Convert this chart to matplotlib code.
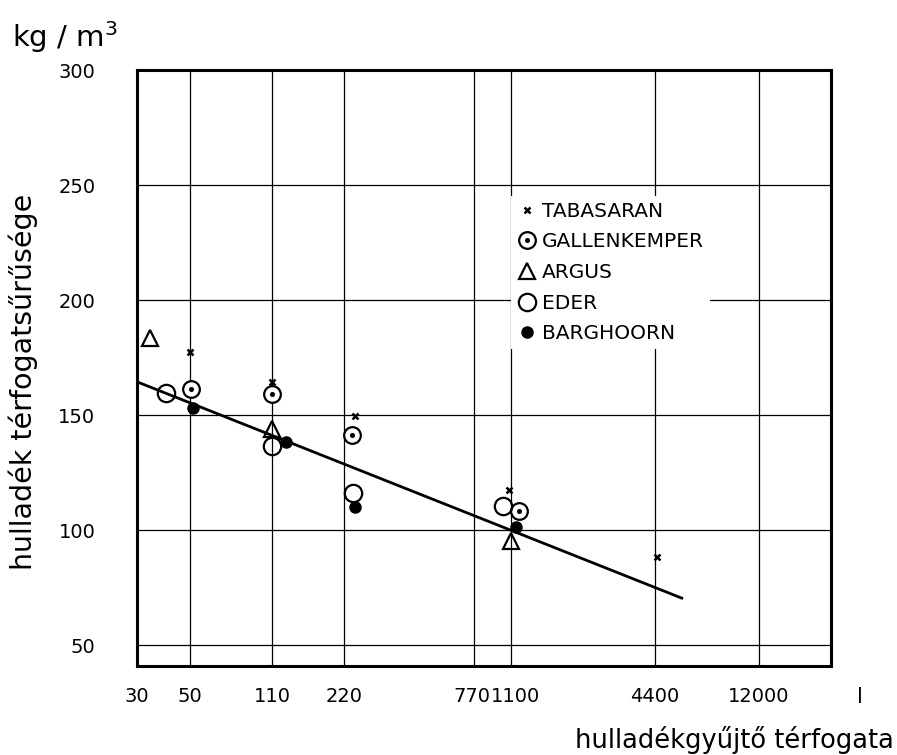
import matplotlib
matplotlib.use('Agg')
import matplotlib.pyplot as plt
import matplotlib.transforms as mtransforms
from matplotlib.legend_handler import HandlerTuple

# ---- data ----
xticks = [30, 50, 110, 220, 770, 1100, 4400, 12000]
xtick_labels = ['30', '50', '110', '220', '770', '1100', '4400', '12000']
yticks = [50, 100, 150, 200, 250, 300]

tab_x = [50, 110, 245, 1080, 4500]
tab_y = [177.5, 164.5, 149.5, 117.5, 88.5]
gal_x = [50.5, 110, 237, 1190]
gal_y = [161.5, 159, 141.5, 108.5]
arg_x = [34, 110, 1100]
arg_y = [183.5, 144, 95.5]
eder_x = [39.5, 110, 241, 1020]
eder_y = [159.5, 136.5, 116, 110.5]
bar_x = [51.5, 126, 245, 1160]
bar_y = [153, 138.5, 110, 101.5]
fit_x = [30, 5700]
fit_y = [164.5, 70.5]

labels = ['TABASARAN', 'GALLENKEMPER', 'ARGUS', 'EDER', 'BARGHOORN']

plt.rcParams['font.family'] = ['DejaVu Sans']

fig = plt.figure(figsize=(8.97, 7.55), dpi=100)
ax = fig.add_axes([137/897, 1-666/755, (831-137)/897, (666-70)/755])

ax.set_xscale('log')
ax.set_xlim(30, 24000)
ax.set_ylim(41, 300)

ax.set_xticks(xticks)
ax.set_xticklabels(xtick_labels)
ax.xaxis.set_minor_locator(matplotlib.ticker.NullLocator())
ax.set_yticks(yticks)
ax.tick_params(axis='both', length=0, labelsize=14)
ax.tick_params(axis='x', pad=15)
ax.tick_params(axis='y', pad=30)

# nudge the crowded 770 / 1100 labels as in the original
for lab in ax.get_xticklabels():
    t = lab.get_text()
    if t == '1100':
        lab.set_transform(lab.get_transform() + mtransforms.ScaledTranslation(5/100, 0, fig.dpi_scale_trans))
    elif t == '770':
        lab.set_transform(lab.get_transform() + mtransforms.ScaledTranslation(-2/100, 0, fig.dpi_scale_trans))

ax.grid(True, which='major', color='black', linewidth=0.9)
ax.set_axisbelow(True)
for s in ax.spines.values():
    s.set_linewidth(2.2)
    s.set_zorder(5)

ax.plot(fit_x, fit_y, color='black', linewidth=2.0, zorder=3)

h_tab, = ax.plot(tab_x, tab_y, linestyle='none', marker='x', markersize=4.5,
                 markeredgewidth=1.8, color='black', zorder=4)
h_gal1, = ax.plot(gal_x, gal_y, linestyle='none', marker='o', markersize=12,
                  markerfacecolor='white', markeredgecolor='black', markeredgewidth=1.6, zorder=4)
h_gal2, = ax.plot(gal_x, gal_y, linestyle='none', marker='o', markersize=2.6,
                  color='black', zorder=4.1)
h_arg, = ax.plot(arg_x, arg_y, linestyle='none', marker='^', markersize=11,
                 markerfacecolor='none', markeredgecolor='black', markeredgewidth=1.6, zorder=4)
h_eder, = ax.plot(eder_x, eder_y, linestyle='none', marker='o', markersize=12.5,
                  markerfacecolor='none', markeredgecolor='black', markeredgewidth=1.6, zorder=4)
h_bar, = ax.plot(bar_x, bar_y, linestyle='none', marker='o', markersize=8,
                 color='black', zorder=4)

leg = ax.legend([h_tab, (h_gal1, h_gal2), h_arg, h_eder, h_bar], labels,
                handler_map={tuple: HandlerTuple(ndivide=1)},
                loc='upper left', bbox_to_anchor=(0.524, 0.806),
                frameon=True, framealpha=1, facecolor='white', edgecolor='none',
                fontsize=14.5, numpoints=1, handlelength=1.0, handletextpad=0.25,
                labelspacing=0.58, borderpad=0.3, fancybox=False)
leg.set_zorder(6)

ax.set_ylabel('hulladék térfogatsűrűsége', fontsize=20.5)
ax.yaxis.set_label_coords(-0.143, 0.476)
ax.set_xlabel('hulladékgyűjtő térfogata', fontsize=18.5, ha='right', va='center')
ax.xaxis.set_label_coords(1.091, -0.124)

fig.text(12/897, 1-47/755, 'kg / m$^3$', fontsize=21, ha='left', va='baseline')
fig.text(860/897, 1-697/755, 'l', fontsize=15, ha='center', va='center')

fig.savefig('out.png', dpi=100, facecolor='white')
